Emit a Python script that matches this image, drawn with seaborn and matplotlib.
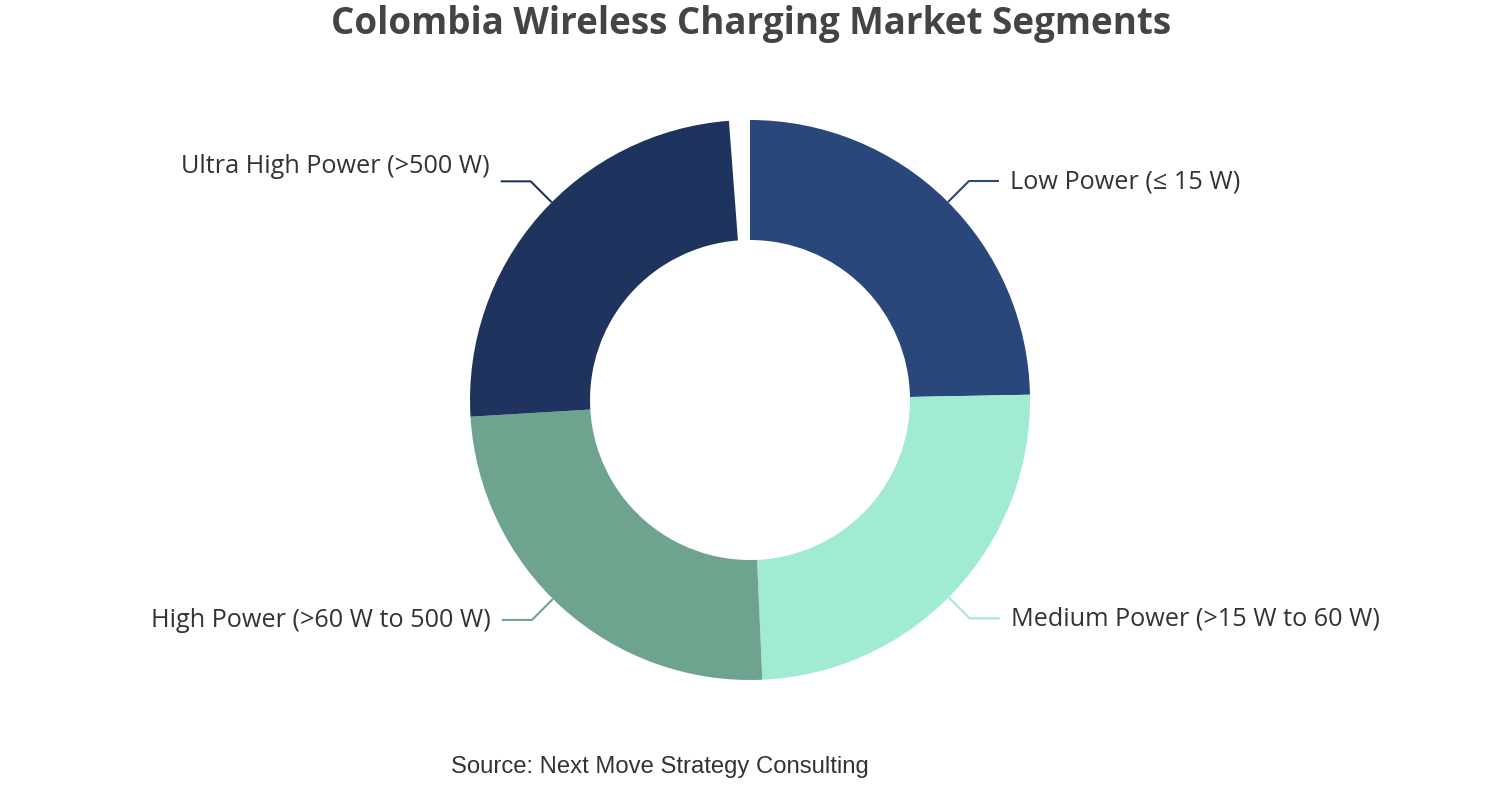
import numpy as np
import seaborn as sns
import matplotlib.pyplot as plt

# chart data
segments = ["Low Power (≤ 15 W)", "Medium Power (>15 W to 60 W)",
            "High Power (>60 W to 500 W)", "Ultra High Power (>500 W)"]
shares = [0.247, 0.246, 0.2475, 0.2475]
colors = ["#2a477c", "#a0ebd1", "#6ea48e", "#1e345f"]

title = "Colombia Wireless Charging Market Segments"
source = "Source: Next Move Strategy Consulting"


def plot_donut():
    sns.set_theme(style="white")
    plt.rcParams["font.family"] = ["Open Sans", "DejaVu Sans"]

    fig = plt.figure(figsize=(15.02, 8), dpi=100)
    ax = fig.add_axes([0, 0, 1, 1])
    ax.set_xlim(0, 1502)
    ax.set_ylim(0, 800)
    ax.set_aspect("equal")
    ax.axis("off")

    cx, cy, r = 750, 400, 280
    wedges, _ = ax.pie(shares, colors=colors, startangle=90, counterclock=False,
                       normalize=False, center=(cx, cy), radius=r,
                       wedgeprops=dict(width=120, linewidth=0))
    ax.set_xlim(0, 1502)
    ax.set_ylim(0, 800)

    # label anchors sit at the middle of each share taken over the full circle
    frac = np.array(shares) / np.sum(shares)
    mids = 90 - 360 * (np.cumsum(frac) - frac / 2)
    nudge = {3: 15}  # the upper-left label sits a bit above its leader line
    for i, (m, label, col) in enumerate(zip(mids, segments, colors)):
        ang = np.deg2rad(m)
        x0, y0 = cx + r * np.cos(ang), cy + r * np.sin(ang)
        sx = 1 if np.cos(ang) >= 0 else -1
        sy = 1 if np.sin(ang) >= 0 else -1
        x1, y1 = x0 + sx * 21, y0 + sy * 21
        x2 = x1 + sx * 30
        ax.plot([x0, x1, x2], [y0, y1, y1], color=col, lw=1.5,
                solid_capstyle="butt")
        ax.text(x2 + sx * 11, y1 - 0.5 + nudge.get(i, 0), label,
                ha="left" if sx > 0 else "right",
                va="center", fontsize=18.2, color="#333333")

    fig.text(0.5, 1 - 24 / 800, title, ha="center", va="center",
             fontsize=26.5, fontweight="bold", color="#444444")
    fig.text(660 / 1502, 1 - 767 / 800, source, ha="center", va="center",
             fontsize=17.2, color="#333333", family="Liberation Sans")

    fig.savefig("out.png", dpi=100, facecolor="white")


if __name__ == "__main__":
    plot_donut()
